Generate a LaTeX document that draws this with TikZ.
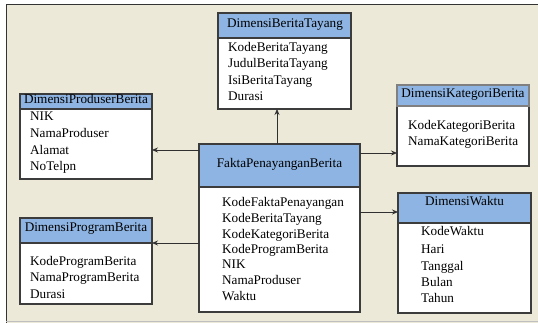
\documentclass[tikz,border=0pt]{standalone}
\usepackage{fontspec}
\setmainfont{Liberation Serif}
\usetikzlibrary{arrows.meta}
\definecolor{bgc}{HTML}{ECE9D8}
\definecolor{boxc}{HTML}{3C3C3C}
\definecolor{hdrc}{HTML}{8DB4E2}
\definecolor{linec}{HTML}{303030}
\newcommand{\fsz}{\fontsize{13.2}{16}\selectfont}
\tikzset{
 boxe/.style={draw=boxc, line width=1.1pt, fill=white, anchor=north west, inner sep=0pt, outer sep=0pt},
 hdr/.style={draw=boxc, line width=1.1pt, fill=hdrc, anchor=north west, inner sep=0pt, outer sep=0pt},
 ttl/.style={font=\fsz, inner sep=0pt, text height=9pt, text depth=3pt, text=black},
 attr/.style={font=\fsz, inner sep=0pt, anchor=west, text height=9pt, text depth=3pt, text=black},
 arr/.style={draw=linec, line width=0.8pt, -{Stealth[length=6pt,width=5pt]}}
}
\begin{document}
\begin{tikzpicture}[x=1pt,y=-1pt]
\useasboundingbox (0,0) rectangle (538,323);
\fill[white] (0,0) rectangle (538,323);
\fill[bgc] (6,5) rectangle (538,323);
\draw[black!80, line width=1pt] (6,323) -- (6,5) -- (538,5);
\draw[black!25, line width=0.8pt] (6,321.5) -- (538,321.5);

% DimensiBeritaTayang
\node[boxe, minimum width=133pt, minimum height=96pt] (bt) at (218,13) {};
\node[hdr, minimum width=133pt, minimum height=25pt] (bth) at (218,13) {};
\node[ttl] (btt) at (285,25) {DimensiBeritaTayang};
\node[attr] (bt1) at (228,49) {KodeBeritaTayang};
\node[attr] (bt2) at (228,65) {JudulBeritaTayang};
\node[attr] (bt3) at (228,82) {IsiBeritaTayang};
\node[attr] (bt4) at (228,98) {Durasi};

% DimensiProduserBerita
\node[boxe, minimum width=132pt, minimum height=85pt] (pr) at (20,94) {};
\node[hdr, minimum width=132pt, minimum height=15pt] (prh) at (20,94) {};
\node[ttl] (prt) at (86,100.5) {DimensiProduserBerita};
\node[attr] (pr1) at (30,118) {NIK};
\node[attr] (pr2) at (30,135) {NamaProduser};
\node[attr] (pr3) at (30,152) {Alamat};
\node[attr] (pr4) at (30,168) {NoTelpn};

% DimensiKategoriBerita
\node[boxe, minimum width=132pt, minimum height=81pt] (kt) at (397,85) {};
\node[draw=black!50, line width=2.2pt, fill=hdrc, anchor=north west, inner sep=0pt, outer sep=0pt, minimum width=132pt, minimum height=21pt] (kth) at (397,85) {};
\node[ttl] (ktt) at (463,95) {DimensiKategoriBerita};
\node[attr] (kt1) at (408,127) {KodeKategoriBerita};
\node[attr] (kt2) at (408,143) {NamaKategoriBerita};

% FaktaPenayanganBerita
\node[boxe, minimum width=161pt, minimum height=168pt] (fk) at (199,144) {};
\node[hdr, minimum width=161pt, minimum height=43pt] (fkh) at (199,144) {};
\node[ttl] (fkt) at (279.5,165) {FaktaPenayanganBerita};
\node[attr] (fk1) at (222,204) {KodeFaktaPenayangan};
\node[attr] (fk2) at (222,219.5) {KodeBeritaTayang};
\node[attr] (fk3) at (222,235) {KodeKategoriBerita};
\node[attr] (fk4) at (222,250.5) {KodeProgramBerita};
\node[attr] (fk5) at (222,266) {NIK};
\node[attr] (fk6) at (222,281.5) {NamaProduser};
\node[attr] (fk7) at (222,297) {Waktu};

% DimensiProgramBerita
\node[boxe, minimum width=132pt, minimum height=86pt] (pg) at (20,218) {};
\node[hdr, minimum width=132pt, minimum height=25pt] (pgh) at (20,218) {};
\node[ttl] (pgt) at (86,228) {DimensiProgramBerita};
\node[attr] (pg1) at (30,262) {KodeProgramBerita};
\node[attr] (pg2) at (30,278) {NamaProgramBerita};
\node[attr] (pg3) at (30,295) {Durasi};

% DimensiWaktu
\node[boxe, minimum width=133pt, minimum height=120pt] (wk) at (398,193) {};
\node[hdr, minimum width=133pt, minimum height=30pt] (wkh) at (398,193) {};
\node[ttl] (wkt) at (464.5,203) {DimensiWaktu};
\node[attr] (wk1) at (421,233) {KodeWaktu};
\node[attr] (wk2) at (421,250) {Hari};
\node[attr] (wk3) at (421,267) {Tanggal};
\node[attr] (wk4) at (421,283) {Bulan};
\node[attr] (wk5) at (421,299) {Tahun};

% connectors
\draw[arr] (fk.north -| 277,0) -- (bt.south -| 277,0);
\draw[arr] (fk.west |- 0,150) -- (pr.east |- 0,150);
\draw[arr] (fk.west |- 0,243) -- (pg.east |- 0,243);
\draw[arr] (fk.east |- 0,153) -- (kt.west |- 0,153);
\draw[arr] (fk.east |- 0,212) -- (wk.west |- 0,212);
\end{tikzpicture}
\end{document}
